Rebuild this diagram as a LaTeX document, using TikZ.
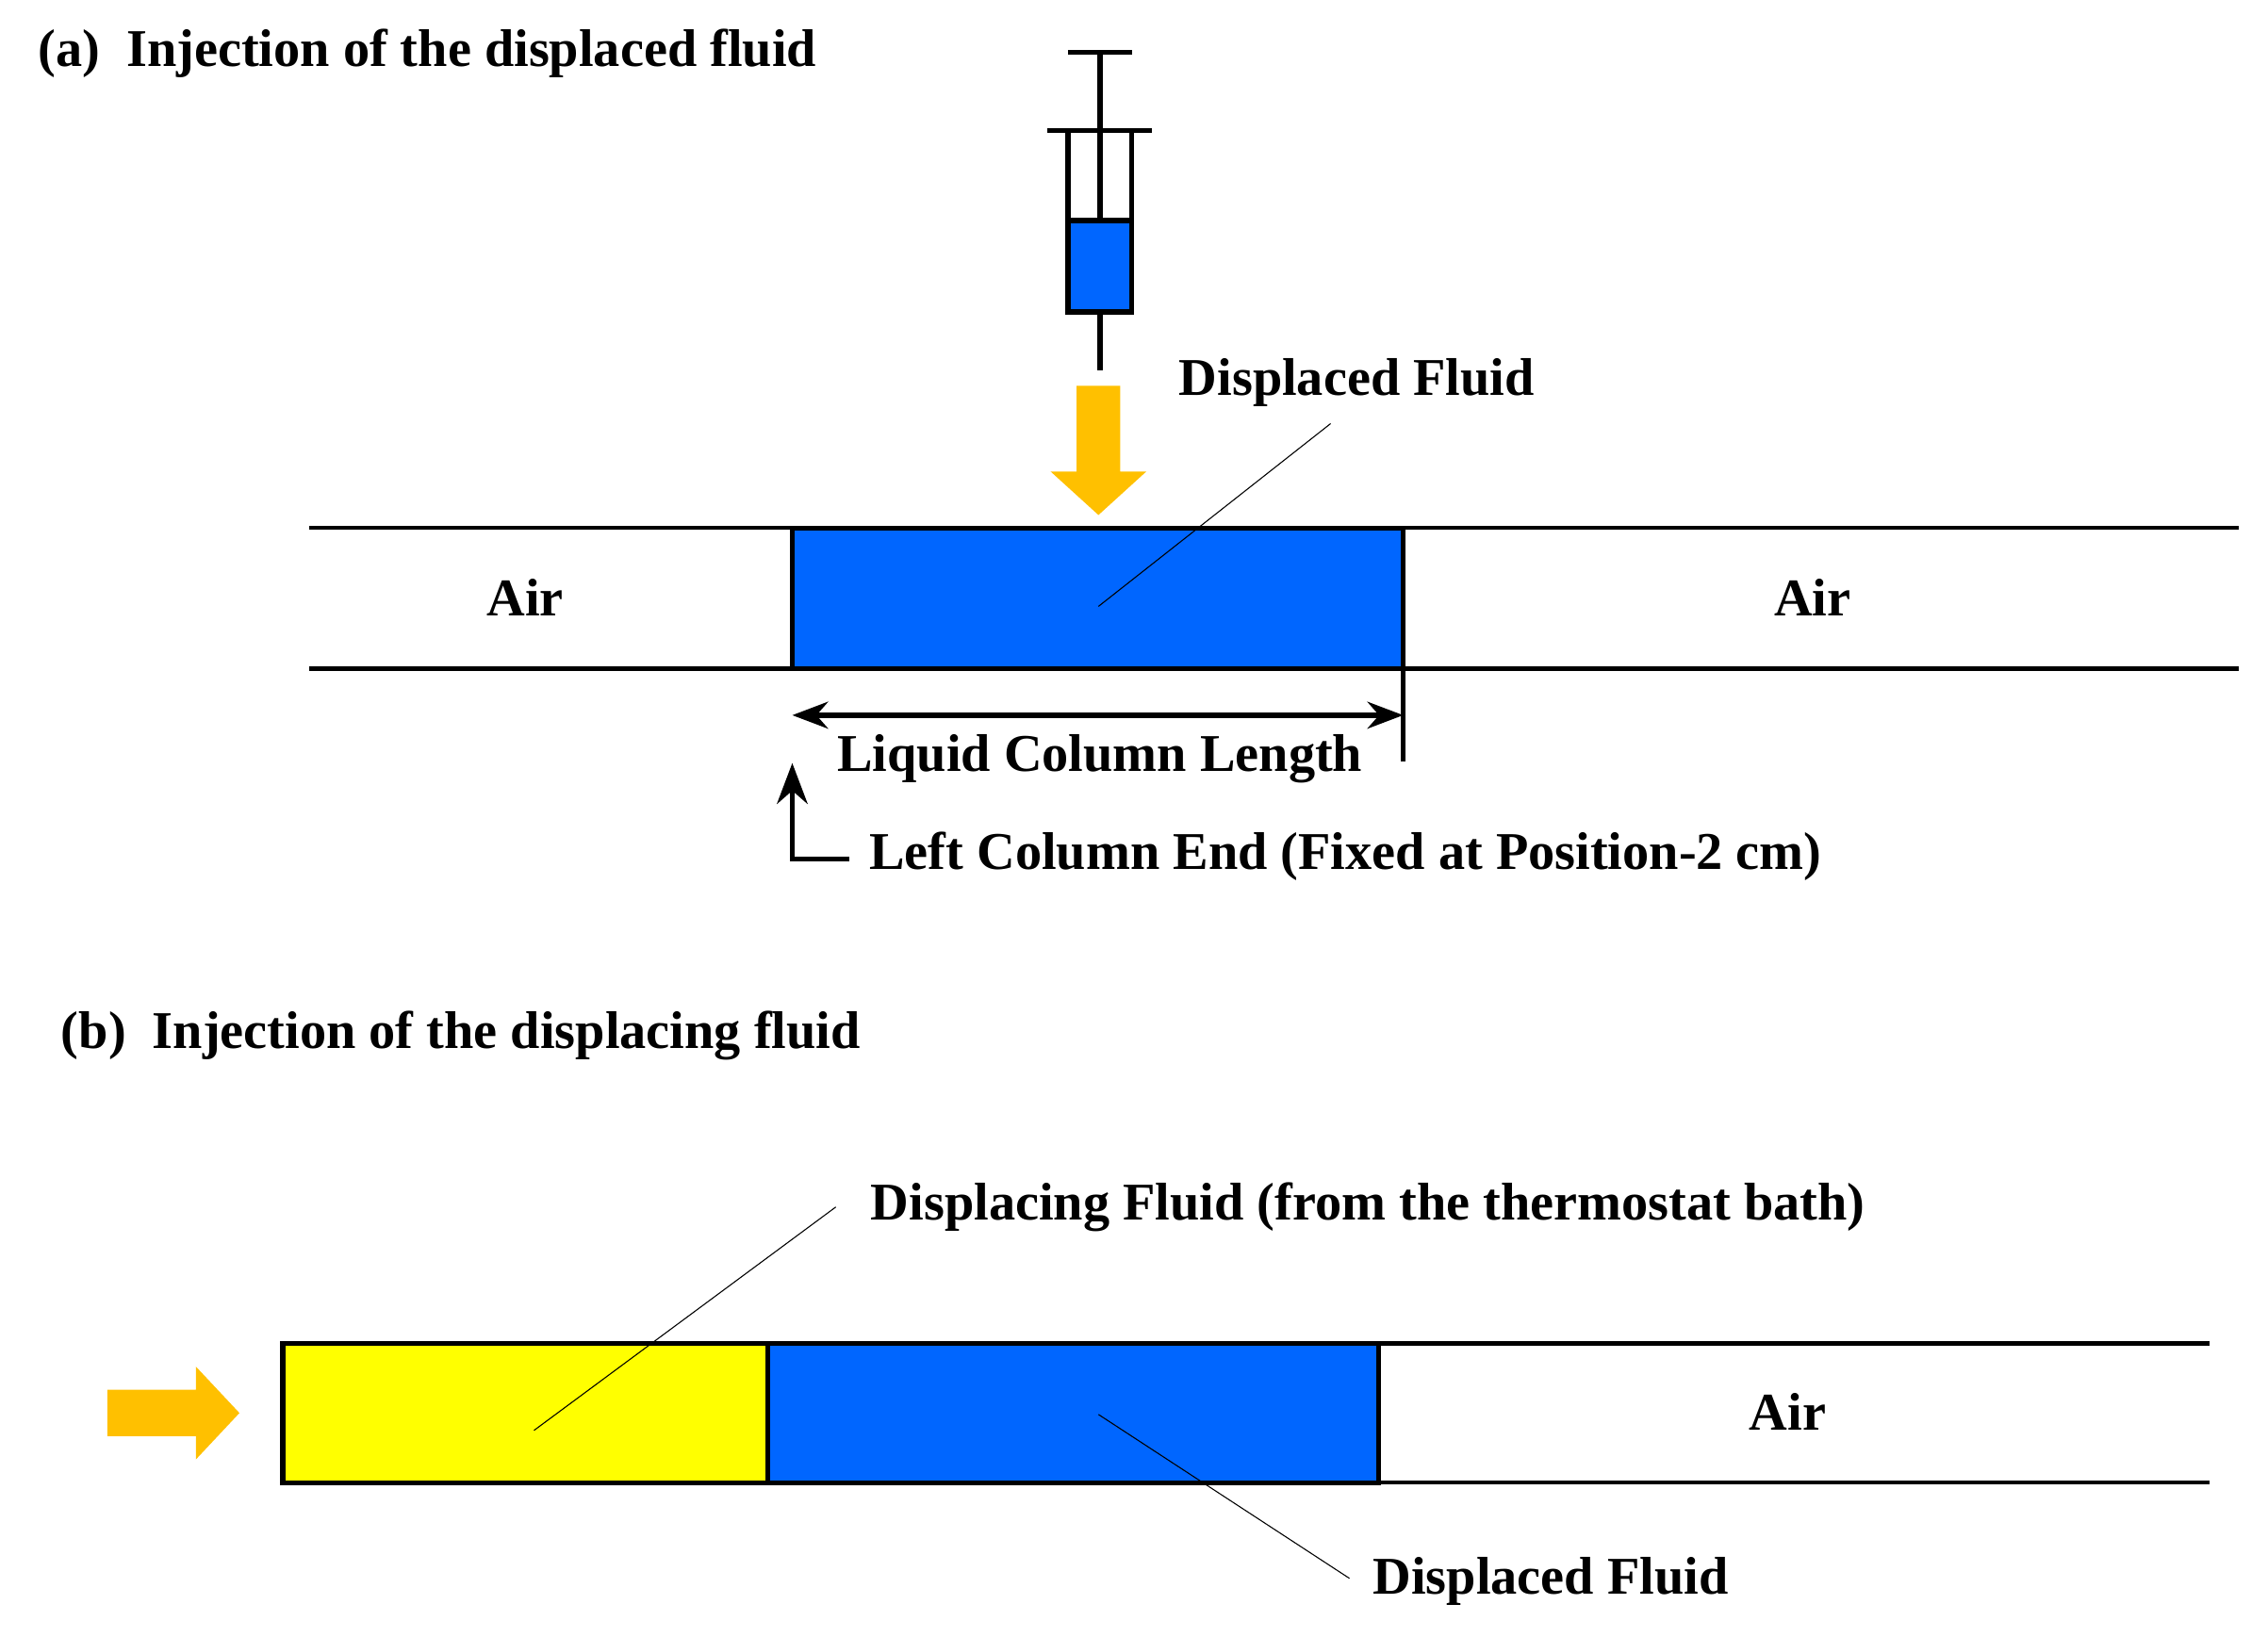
\documentclass[tikz,border=0pt]{standalone}
\usepackage{fontspec}
\setmainfont{Liberation Serif}
\usetikzlibrary{arrows.meta}
\definecolor{fblue}{HTML}{0066FF}
\definecolor{forange}{HTML}{FFC000}
\definecolor{fyellow}{HTML}{FFFF00}
\begin{document}
\begin{tikzpicture}[x=0.01cm,y=-0.01cm,
  lbl/.style={font=\bfseries\fontsize{10.4}{12}\selectfont, inner sep=1pt},
  lead/.style={draw, very thin},
  tube/.style={line width=0.8pt}]
\useasboundingbox (0,0) rectangle (1563,1128);
% (a)
\node[lbl,anchor=west] (ta) at (22,37) {(a)\ \ Injection of the displaced fluid};
% syringe
\draw[line width=1pt] (736,36) -- (780,36);
\draw[line width=1pt] (758,36) -- (758,152);
\draw[line width=1pt] (722,90) -- (794,90);
\draw[line width=1pt,fill=fblue] (736,152) rectangle (780,215);
\draw[line width=1pt] (736,90) -- (736,152) (780,90) -- (780,152);
\draw[line width=1pt] (758,215) -- (758,255);
% orange arrow down
\fill[forange] (742,266) -- (772,266) -- (772,325) -- (790,325) -- (757,355) -- (724,325) -- (742,325) -- cycle;
% tube a
\draw[tube] (213,364) -- (1543,364) (213,461) -- (1543,461);
\draw[line width=1pt,fill=fblue] (546,364) rectangle (967,461);
\node[lbl] (aira) at (362,412) {Air};
\node[lbl] (airb) at (1249,412) {Air};
\node[lbl] (dfa) at (935,264) {Displaced Fluid};
\coordinate (dfaend) at (757,418);
\draw[lead] (917,292) -- (dfaend);
\coordinate (l1) at (546,493); \coordinate (l2) at (967,493);
\draw[line width=1pt,{Stealth[length=7pt]}-{Stealth[length=7pt]}] (l1) -- (l2);
\draw[line width=1pt] (967,461) -- (967,525);
\node[lbl] (lcl) at (758,523) {Liquid Column Length};
\node[lbl,anchor=west] (lce) at (595,590) {Left Column End (Fixed at Position-2 cm)};
\coordinate (c1) at (546,526);
\draw[line width=1pt,-{Stealth[length=8pt]}] (585,592) -- (546,592) -- (c1);
% (b)
\node[lbl,anchor=west] (tb) at (38,714) {(b)\ \ Injection of the displacing fluid};
\fill[forange] (74,958) -- (135,958) -- (135,942) -- (165,974) -- (135,1006) -- (135,990) -- (74,990) -- cycle;
\draw[line width=1pt,fill=fyellow] (195,926) rectangle (529,1022);
\draw[line width=1pt,fill=fblue] (529,926) rectangle (950,1022);
\draw[tube] (195,926) -- (1523,926) (195,1022) -- (1523,1022);
\node[lbl] (airc) at (1232,973) {Air};
\node[lbl,anchor=west] (dg) at (596,832) {Displacing Fluid (from the thermostat bath)};
\draw[lead] (576,832) -- (368,986);
\node[lbl,anchor=west] (dfb) at (942,1090) {Displaced Fluid};
\draw[lead] (930,1088) -- (757,975);
\end{tikzpicture}
\end{document}
